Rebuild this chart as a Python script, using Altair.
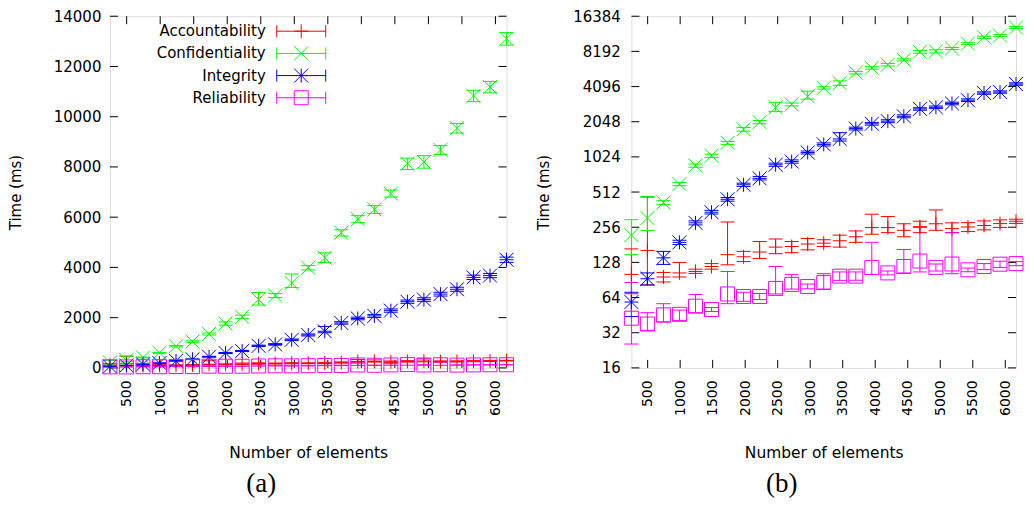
import altair as alt
import pandas as pd

# ---------------- data ----------------
elements = [250, 496, 743, 989, 1236, 1482, 1729, 1975, 2222, 2468, 2715, 2961, 3208,
            3454, 3701, 3947, 4194, 4440, 4687, 4933, 5180, 5426, 5673, 5919, 6165]

series_names = ["Accountability", "Confidentiality", "Integrity", "Reliability"]

acc = [101, 162, 96, 104, 107, 118, 149, 143, 157, 173, 175, 184, 187, 196, 212, 254, 254,
       241, 259, 274, 249, 257, 265, 275, 288]
acc_lo = [69, 82, 87, 96, 103, 112, 122, 130, 138, 152, 155, 164, 175, 173, 190, 223, 230,
          212, 230, 241, 230, 235, 243, 255, 276]
acc_hi = [167, 464, 105, 128, 112, 125, 284, 159, 193, 203, 193, 205, 200, 219, 238, 331, 316,
          274, 288, 360, 279, 280, 290, 296, 300]

conf = [219, 307, 416, 599, 861, 1048, 1351, 1765, 2033, 2721, 2882, 3378, 3988, 4386, 5381,
        5922, 6308, 6937, 8128, 8200, 8676, 9540, 10827, 11180, 13100]
conf_lo = [149, 240, 400, 580, 835, 1015, 1310, 1700, 1970, 2500, 2800, 3200, 3900, 4200, 5250,
           5780, 6150, 6800, 7900, 7950, 8500, 9350, 10600, 10950, 12850]
conf_hi = [297, 470, 432, 618, 890, 1080, 1390, 1830, 2100, 3000, 2960, 3740, 4080, 4580, 5500,
           6060, 6460, 7080, 8350, 8450, 8850, 9730, 11050, 11400, 13350]

integ = [58.6, 92.7, 140, 190, 279, 344, 444, 591, 671, 877, 934, 1116, 1310, 1458, 1788, 1967,
         2071, 2279, 2636, 2721, 2937, 3130, 3603, 3674, 4306]
integ_lo = [44, 82, 123, 182, 268, 332, 428, 572, 650, 850, 905, 1085, 1270, 1400, 1740, 1915,
            2010, 2215, 2570, 2650, 2860, 3050, 3520, 3590, 4200]
integ_hi = [71, 104, 159, 198, 290, 357, 460, 610, 695, 905, 965, 1150, 1350, 1650, 1840, 2020,
            2130, 2345, 2700, 2790, 3010, 3210, 3690, 3760, 4410]

rel = [42.6, 38, 45.5, 46, 54, 50.6, 68.7, 65.3, 65.3, 76.6, 83, 79.6, 86, 97.6, 97.6, 116, 104,
       118, 131.5, 116, 124, 110.6, 118, 123.5, 125]
rel_lo = [25.6, 33.5, 39.4, 40.8, 47.5, 48.6, 56.7, 59.4, 61.5, 68.7, 75.6, 76, 75.6, 89.8, 90,
          100.6, 100, 104, 106, 108, 102.5, 106.5, 111, 116, 120]
rel_hi = [86, 47.5, 56.7, 50, 68, 52.6, 107, 71, 69.3, 118, 100.6, 83.5, 102.5, 106, 106, 190,
          108, 165, 254, 124, 230, 114.5, 125, 131, 130]

x_ticks = [500, 1000, 1500, 2000, 2500, 3000, 3500, 4000, 4500, 5000, 5500, 6000]
y_ticks_lin = [0, 2000, 4000, 6000, 8000, 10000, 12000, 14000]
y_ticks_log = [16, 32, 64, 128, 256, 512, 1024, 2048, 4096, 8192, 16384]

# ---------------- styles ----------------
colors = ["#ff0000", "#00ff00", "#0000ff", "#ff00ff"]
shapes = [
    "M-1,0L1,0M0,-1L0,1",
    "M-1,-1L1,1M-1,1L1,-1",
    "M-1,0L1,0M0,-1L0,1M-1,-1L1,1M-1,1L1,-1",
    "M-1,-1L1,-1L1,1L-1,1Z",
]
FONT = "DejaVu Sans"
H = 352
W1, W2 = 397, 385
TICK = 8

rows = []
for name, v, lo, hi in zip(series_names, [acc, conf, integ, rel],
                           [acc_lo, conf_lo, integ_lo, rel_lo],
                           [acc_hi, conf_hi, integ_hi, rel_hi]):
    for x, a, b, c in zip(elements, v, lo, hi):
        rows.append({"series": name, "n": x, "t": a, "lo": b, "hi": c})
df = pd.DataFrame(rows)

xt_df = pd.DataFrame({"n": x_ticks})
legend_df = pd.DataFrame({"series": series_names,
                          "ly": [15 + 22.2 * i for i in range(len(series_names))]})

color_enc = alt.Color("series:N", scale=alt.Scale(domain=series_names, range=colors), legend=None)
shape_enc = alt.Shape("series:N", scale=alt.Scale(domain=series_names, range=shapes), legend=None)
xscale = alt.Scale(domain=[elements[0], elements[-1]], nice=False, zero=False)


def panel(yscale, yvals, W, lab_pad, title_pad, tag, tag_dx, with_legend):
    xaxis = alt.Axis(values=x_ticks, format="d", labelAngle=-90, ticks=False, domain=False,
                     grid=False, labelPadding=12, labelFontSize=14, labelFont=FONT,
                     labelColor="black", title="Number of elements", titleFont=FONT,
                     titleFontSize=15.5, titleFontWeight="normal", titleColor="black",
                     titlePadding=28, minExtent=50, maxExtent=50)
    yaxis = alt.Axis(values=yvals, format="d", ticks=False, domain=False, grid=False,
                     labelPadding=lab_pad, labelFontSize=15, labelFont=FONT,
                     labelColor="black", title="Time (ms)", titleFont=FONT, titleFontSize=15,
                     titleFontWeight="normal", titleColor="black", titlePadding=title_pad,
                     minExtent=60, maxExtent=60)
    X = lambda f: alt.X(f, scale=xscale, axis=xaxis)
    Y = lambda f: alt.Y(f, scale=yscale, axis=yaxis)
    yt_df = pd.DataFrame({"t": yvals})

    base = alt.Chart(df)
    err = base.mark_rule(strokeWidth=1).encode(x=X("n:Q"), y=Y("lo:Q"), y2="hi:Q", color=color_enc)
    cap_lo = base.mark_point(shape="M-1,0L1,0", size=196, strokeWidth=1, filled=False,
                             opacity=1).encode(x=X("n:Q"), y=Y("lo:Q"), color=color_enc)
    cap_hi = base.mark_point(shape="M-1,0L1,0", size=196, strokeWidth=1, filled=False,
                             opacity=1).encode(x=X("n:Q"), y=Y("hi:Q"), color=color_enc)
    pts = base.mark_point(size=196, strokeWidth=1, filled=False, opacity=1).encode(
        x=X("n:Q"), y=Y("t:Q"), color=color_enc, shape=shape_enc)

    xt = alt.Chart(xt_df)
    yt = alt.Chart(yt_df)
    tb = xt.mark_rule(color="black", strokeWidth=1).encode(
        x=X("n:Q"), y=alt.value(H), y2=alt.value(H - TICK))
    tt = xt.mark_rule(color="black", strokeWidth=1).encode(
        x=X("n:Q"), y=alt.value(0), y2=alt.value(TICK))
    tl = yt.mark_rule(color="black", strokeWidth=1).encode(
        y=Y("t:Q"), x=alt.value(0), x2=alt.value(TICK))
    tr = yt.mark_rule(color="black", strokeWidth=1).encode(
        y=Y("t:Q"), x=alt.value(W - TICK), x2=alt.value(W))

    lab = alt.Chart(pd.DataFrame({"lab": [tag]})).mark_text(
        font="Liberation Serif", fontSize=27, color="black", baseline="middle",
        align="center").encode(text="lab:N", x=alt.value(W / 2 + tag_dx), y=alt.value(H + 116))

    layers = [tb, tt, tl, tr, err, cap_lo, cap_hi, pts, lab]

    if with_legend:
        lg = alt.Chart(legend_df)
        ly = alt.Y("ly:Q", scale=None, axis=None)
        l_line = lg.mark_rule(strokeWidth=1).encode(
            x=alt.value(167), x2=alt.value(216), y=ly, color=color_enc)
        l_c1 = lg.mark_point(shape="M0,-1L0,1", size=144, strokeWidth=1, filled=False,
                             opacity=1).encode(x=alt.value(167), y=ly, color=color_enc)
        l_c2 = lg.mark_point(shape="M0,-1L0,1", size=144, strokeWidth=1, filled=False,
                             opacity=1).encode(x=alt.value(216), y=ly, color=color_enc)
        l_m = lg.mark_point(size=196, strokeWidth=1, filled=False, opacity=1).encode(
            x=alt.value(191.5), y=ly, color=color_enc, shape=shape_enc)
        l_t = lg.mark_text(font=FONT, fontSize=15, align="right", baseline="middle",
                           color="black").encode(x=alt.value(156), y=ly, text="series:N")
        layers += [l_line, l_c1, l_c2, l_m, l_t]

    return alt.layer(*layers).properties(width=W, height=H)


left = panel(alt.Scale(domain=[0, 14000], nice=False, zero=True), y_ticks_lin, W1, 9, 26,
             "(a)", -47, True)
right = panel(alt.Scale(type="log", base=2, domain=[16, 16384], nice=False), y_ticks_log, W2,
              11, 20, "(b)", -42, False)

chart = alt.hconcat(left, right, spacing=19).properties(
    padding={"left": 0, "top": 0, "right": 0, "bottom": 0}
).configure_view(stroke="black", strokeWidth=1).configure(background="white")

chart.save("out.html", embed_options={"renderer": "svg", "actions": False})
